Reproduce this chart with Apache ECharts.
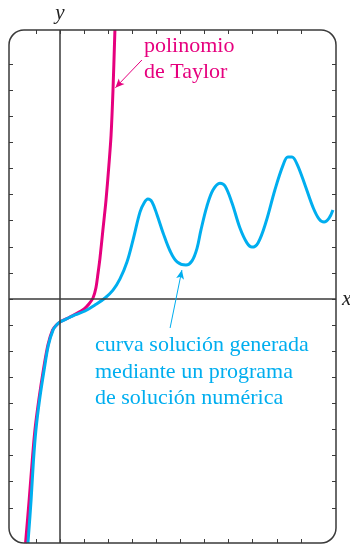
<!DOCTYPE html>
<html>
<head>
<meta charset="utf-8">
<script src="https://cdn.jsdelivr.net/npm/echarts@6/dist/echarts.min.js"></script>
<style>
  html, body { margin: 0; padding: 0; background: #fff; }
  #chart { width: 350px; height: 546px; }
</style>
</head>
<body>
<div id="chart"></div>
<script>
// Axis window (in tick units) and tick positions along the framed box
const xRange = [-2.117, 11.457];
const yRange = [-9.35, 10.31];
const xTicks = [-1, 0, 1, 2, 3, 4, 5, 6, 7, 8, 9, 10];
const yTicks = [-8, -7, -6, -5, -4, -3, -2, -1, 0, 1, 2, 3, 4, 5, 6, 7, 8, 9];

// Numerical solution curve (x, y)
const numX = [-1.33, -1.20, -1.10, -1.00, -0.85, -0.66, -0.48, -0.29, -0.15, 0, 0.25, 0.62, 1.04, 1.45, 1.87, 2.2, 2.49, 2.78, 3.03, 3.32, 3.49, 3.65, 3.82, 4.03, 4.28, 4.57, 4.86, 5.23, 5.48, 5.69, 5.85, 6.1, 6.35, 6.64, 6.85, 7.14, 7.47, 7.76, 7.97, 8.22, 8.55, 8.92, 9.26, 9.46, 9.63, 9.84, 10.17, 10.5, 10.75, 10.96, 11.17, 11.33];
const numY = [-9.35, -7.70, -6.17, -5.02, -3.87, -2.72, -1.76, -1.19, -1.00, -0.88, -0.77, -0.61, -0.46, -0.23, 0.04, 0.34, 0.77, 1.42, 2.26, 3.33, 3.68, 3.83, 3.72, 3.22, 2.53, 1.84, 1.42, 1.30, 1.46, 1.95, 2.64, 3.56, 4.18, 4.44, 4.33, 3.68, 2.72, 2.15, 1.99, 2.15, 2.95, 4.18, 5.13, 5.44, 5.44, 5.17, 4.37, 3.52, 3.07, 2.95, 3.10, 3.41];

// Taylor polynomial curve (x, y)
const taylorX = [-1.43, -1.28, -1.15, -1.04, -0.88, -0.69, -0.50, -0.31, -0.15, 0, 0.33, 0.66, 1.0, 1.2, 1.37, 1.49, 1.58, 1.66, 1.78, 1.91, 2.03, 2.12, 2.2, 2.28];
const taylorY = [-9.35, -7.70, -6.17, -5.02, -3.87, -2.72, -1.76, -1.19, -1.00, -0.88, -0.73, -0.57, -0.38, -0.19, 0.04, 0.42, 1.0, 1.57, 2.64, 3.79, 5.13, 6.28, 8.01, 10.31];

// Callout arrows: [start, end] in data coordinates
const taylorArrow = [[3.40, 9.16], [2.30, 8.10]];
const numArrow = [[4.57, -1.11], [5.06, 1.11]];

const PINK = '#e6007e';
const BLUE = '#00aeef';
const INK = '#3a3a3a';

const zip = (xs, ys) => xs.map((x, i) => [x, ys[i]]);

// Tick-only axis that sits on one side of the frame
function frameAxis(position, ticks, range) {
  return {
    type: 'value',
    position: position,
    min: range[0],
    max: range[1],
    axisLine: { show: false, onZero: false },
    axisTick: { show: true, inside: true, length: 4, customValues: ticks, lineStyle: { color: INK, width: 1 } },
    axisLabel: { show: false },
    splitLine: { show: false }
  };
}

const chart = echarts.init(document.getElementById('chart'), null, { renderer: 'canvas' });

chart.setOption({
  animation: false,
  backgroundColor: '#fff',
  grid: { left: 9, right: 14, top: 30, bottom: 3, containLabel: false },
  xAxis: [
    frameAxis('bottom', xTicks, xRange),
    frameAxis('top', xTicks, xRange)
  ],
  yAxis: [
    frameAxis('left', yTicks, yRange),
    frameAxis('right', yTicks, yRange)
  ],
  graphic: [
    {
      type: 'rect',
      shape: { x: 9, y: 30, width: 327, height: 513, r: 15 },
      style: { fill: 'none', stroke: INK, lineWidth: 1.5 },
      z: 10
    },
    {
      type: 'text',
      left: 144,
      top: 33,
      style: {
        text: 'polinomio\nde Taylor',
        fontFamily: 'Liberation Serif',
        fontSize: 22,
        fill: PINK,
        lineHeight: 26
      }
    },
    {
      type: 'text',
      left: 95,
      top: 332,
      style: {
        text: 'curva solución generada\nmediante un programa\nde solución numérica',
        fontFamily: 'Liberation Serif',
        fontSize: 22,
        fill: BLUE,
        lineHeight: 26.5
      }
    }
  ],
  series: [
    {
      name: 'axes',
      type: 'line',
      data: [],
      silent: true,
      markLine: {
        silent: true,
        symbol: ['none', 'none'],
        animation: false,
        lineStyle: { color: INK, width: 1.5, type: 'solid' },
        label: {
          show: true,
          position: 'end',
          fontFamily: 'Liberation Serif',
          fontStyle: 'italic',
          fontSize: 21,
          color: '#222'
        },
        data: [
          { xAxis: 0, label: { formatter: 'y', distance: 6 } },
          { yAxis: 0, label: { formatter: 'x', distance: 6 } }
        ]
      }
    },
    {
      name: 'Taylor',
      type: 'line',
      data: zip(taylorX, taylorY),
      smooth: 0.3,
      showSymbol: false,
      lineStyle: { color: PINK, width: 3 },
      z: 3,
      markLine: {
        silent: true,
        symbol: ['none', 'arrow'],
        symbolSize: [6, 9],
        lineStyle: { color: PINK, width: 1, type: 'solid' },
        label: { show: false },
        data: [[{ coord: taylorArrow[0] }, { coord: taylorArrow[1] }]]
      }
    },
    {
      name: 'numérica',
      type: 'line',
      data: zip(numX, numY),
      smooth: 0.35,
      showSymbol: false,
      lineStyle: { color: BLUE, width: 3 },
      z: 4,
      markLine: {
        silent: true,
        symbol: ['none', 'arrow'],
        symbolSize: [6, 9],
        lineStyle: { color: BLUE, width: 1, type: 'solid' },
        label: { show: false },
        data: [[{ coord: numArrow[0] }, { coord: numArrow[1] }]]
      }
    }
  ]
});
</script>
</body>
</html>
